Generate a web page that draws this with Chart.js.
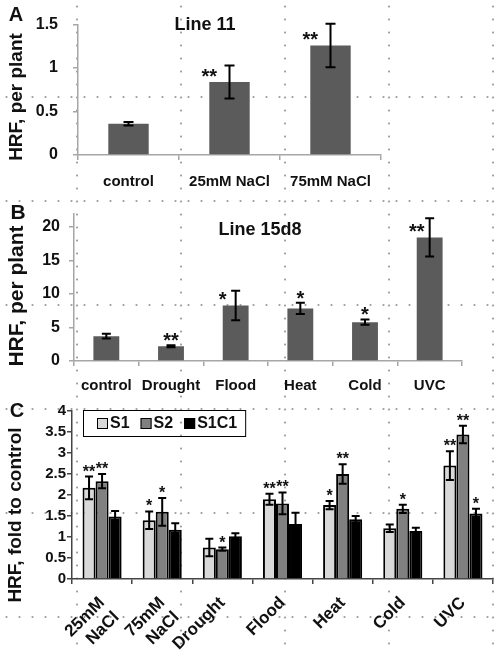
<!DOCTYPE html>
<html>
<head>
<meta charset="utf-8">
<script src="https://cdn.jsdelivr.net/npm/chart.js@4.4.0/dist/chart.umd.min.js"></script>
<style>
html, body { margin: 0; padding: 0; }
body {
  width: 498px; height: 654px; position: relative; overflow: hidden; background-color: #fff;
  /* faint dotted guide grid seen behind the figure */
  background-image: radial-gradient(circle, #a0a0a0 0.8px, transparent 1.3px),
                    radial-gradient(circle, #a0a0a0 0.8px, transparent 1.3px);
  background-size: 13px 104px, 104px 13px;
  background-position: 0 45px, 25px 0;
}
canvas { position: absolute; left: 0; }
</style>
</head>
<body>
<canvas id="chartA" width="498" height="195" style="top:0"></canvas>
<canvas id="chartB" width="498" height="200" style="top:195px"></canvas>
<canvas id="chartC" width="498" height="264" style="top:390px"></canvas>
<script>
const FONT = "'Liberation Sans', Arial, sans-serif";

// --- Panel A : Line 11 ---
const catsA = ['control', '25mM NaCl', '75mM NaCl'];
const hrfA = [0.36, 0.84, 1.26];
const errA = [0.02, 0.19, 0.25];
const sigA = ['', '**', '**'];
const yTicksA = [0, 0.5, 1, 1.5];

// --- Panel B : Line 15d8 ---
const catsB = ['control', 'Drought', 'Flood', 'Heat', 'Cold', 'UVC'];
const hrfB = [3.7, 2.2, 8.3, 7.85, 5.8, 18.45];
const errB = [0.35, 0.15, 2.2, 0.85, 0.4, 2.85];
const sigB = ['', '**', '*', '*', '*', '**'];
const yTicksB = [0, 5, 10, 15, 20];

// --- Panel C : fold to control ---
const catsC = [['25mM', 'NaCl'], ['75mM', 'NaCl'], 'Drought', 'Flood', 'Heat', 'Cold', 'UVC'];
const seriesC = ['S1', 'S2', 'S1C1'];
const s1 = [2.17, 1.40, 0.75, 1.90, 1.76, 1.21, 2.70];
const s1Err = [0.27, 0.21, 0.21, 0.13, 0.10, 0.09, 0.34];
const s1Sig = ['**', '*', '', '**', '*', '', '**'];
const s2 = [2.33, 1.60, 0.71, 1.80, 2.50, 1.67, 3.44];
const s2Err = [0.17, 0.33, 0.04, 0.26, 0.23, 0.10, 0.21];
const s2Sig = ['**', '*', '*', '**', '**', '*', '**'];
const s1c1 = [1.49, 1.17, 1.02, 1.31, 1.42, 1.14, 1.56];
const s1c1Err = [0.13, 0.16, 0.07, 0.27, 0.08, 0.08, 0.11];
const s1c1Sig = ['', '', '', '', '', '', '*'];
const yTicksC = [0, 0.5, 1, 1.5, 2, 2.5, 3, 3.5, 4];

Chart.defaults.font.family = FONT;
Chart.defaults.font.weight = 'bold';
Chart.defaults.color = '#111';

// error bars + significance stars, drawn from the bar elements and the y scale
const errorBarsPlugin = {
  id: 'errorBars',
  afterDatasetsDraw(chart, args, opts) {
    const ctx = chart.ctx, yScale = chart.scales.y;
    chart.data.datasets.forEach((ds, i) => {
      const meta = chart.getDatasetMeta(i);
      meta.data.forEach((bar, j) => {
        const v = ds.data[j], e = ds.errors[j];
        const yHi = yScale.getPixelForValue(v + e);
        const yLo = yScale.getPixelForValue(v - e);
        const c = opts.cap / 2;
        ctx.save();
        ctx.strokeStyle = '#000';
        ctx.lineWidth = 2;
        ctx.beginPath();
        ctx.moveTo(bar.x, yHi); ctx.lineTo(bar.x, yLo);
        ctx.moveTo(bar.x - c, yHi); ctx.lineTo(bar.x + c, yHi);
        ctx.moveTo(bar.x - c, yLo); ctx.lineTo(bar.x + c, yLo);
        ctx.stroke();
        const s = ds.stars[j];
        if (s) {
          ctx.font = 'bold ' + opts.starSize + 'px ' + FONT;
          ctx.fillStyle = '#111';
          ctx.textAlign = 'center';
          ctx.textBaseline = 'alphabetic';
          // tall error bar: stars sit at the bar's left shoulder, else above the cap
          if (opts.starMode === 'left' && yLo - yHi > 16) {
            ctx.fillText(s, bar.x - bar.width / 2, bar.y + 1);
          } else {
            ctx.fillText(s, bar.x, yHi + opts.starLift);
          }
        }
        ctx.restore();
      });
    });
  }
};

// panel letter, inner title and rotated axis title
const panelTextPlugin = {
  id: 'panelText',
  afterDraw(chart, args, opts) {
    const ctx = chart.ctx;
    (opts.items || []).forEach(t => {
      ctx.save();
      ctx.fillStyle = '#111';
      ctx.textAlign = 'center';
      ctx.textBaseline = 'middle';
      ctx.font = 'bold ' + t.size + 'px ' + FONT;
      ctx.translate(t.x, t.y);
      if (t.rot) ctx.rotate(-Math.PI / 2);
      ctx.fillText(t.text, 0, 0);
      ctx.restore();
    });
  }
};

// framed legend sitting inside the plot of panel C
const boxLegendPlugin = {
  id: 'boxLegend',
  afterDraw(chart, args, opts) {
    if (!opts.display) return;
    const ctx = chart.ctx;
    const cy = opts.y + opts.h / 2;
    let x = opts.x + opts.padL;
    ctx.save();
    ctx.font = 'bold 16px ' + FONT;
    ctx.textAlign = 'left';
    ctx.textBaseline = 'middle';
    chart.data.datasets.forEach((ds, i) => {
      ctx.fillStyle = ds.backgroundColor;
      ctx.fillRect(x, cy - 5, 11, 11);
      ctx.strokeStyle = '#000';
      ctx.lineWidth = 1;
      ctx.strokeRect(x + 0.5, cy - 4.5, 10, 10);
      x += 13;
      ctx.fillStyle = '#111';
      ctx.fillText(ds.label, x, cy + 1);
      x += ctx.measureText(ds.label).width;
      if (i < chart.data.datasets.length - 1) x += opts.gap;
    });
    ctx.strokeStyle = '#000';
    ctx.lineWidth = 1;
    ctx.strokeRect(opts.x + 0.5, opts.y + 0.5, x + opts.padR - opts.x, opts.h);
    ctx.restore();
  }
};

const axisGrey = '#a6a6a6';

function yAxis(ticks, max, width, pad, color, size) {
  return {
    min: 0, max: max,
    afterBuildTicks: s => { s.ticks = ticks.map(v => ({ value: v })); },
    afterFit: s => { s.width = width; },
    grid: { drawOnChartArea: false, tickLength: 5, color: color, lineWidth: 1.5 },
    border: { color: color, width: 1.5 },
    ticks: { font: { size: size, weight: 'bold' }, padding: pad, autoSkip: false, callback: v => String(v) }
  };
}

function xAxis(height, pad, color, rotate, size) {
  return {
    afterFit: s => { s.height = height; },
    grid: { drawOnChartArea: false, offset: true, tickLength: 5, color: color, lineWidth: 1.5 },
    border: { color: color, width: 1.5 },
    ticks: {
      font: { size: size, weight: 'bold' }, padding: pad, autoSkip: false,
      maxRotation: rotate, minRotation: rotate
    }
  };
}

// Panel A
new Chart(document.getElementById('chartA'), {
  type: 'bar',
  data: {
    labels: catsA,
    datasets: [{ data: hrfA, errors: errA, stars: sigA, backgroundColor: '#5b5b5b',
      borderWidth: 0, barPercentage: 0.4, categoryPercentage: 1 }]
  },
  options: {
    responsive: false, animation: false,
    layout: { padding: { top: 16, right: 117, left: 0, bottom: 0 } },
    plugins: {
      legend: { display: false }, tooltip: { enabled: false },
      errorBars: { cap: 10, starSize: 20, starMode: 'left', starLift: 2 },
      panelText: { items: [
        { text: 'A', x: 16, y: 15, size: 20 },
        { text: 'Line 11', x: 205, y: 25, size: 18 },
        { text: 'HRF, per plant', x: 17, y: 97, size: 19, rot: true }
      ] }
    },
    scales: {
      x: xAxis(40, 13, axisGrey, 0, 15),
      y: yAxis(yTicksA, 1.5, 78, 15, axisGrey, 16)
    }
  },
  plugins: [errorBarsPlugin, panelTextPlugin]
});

// Panel B
new Chart(document.getElementById('chartB'), {
  type: 'bar',
  data: {
    labels: catsB,
    datasets: [{ data: hrfB, errors: errB, stars: sigB, backgroundColor: '#5b5b5b',
      borderWidth: 0, barPercentage: 0.4, categoryPercentage: 1 }]
  },
  options: {
    responsive: false, animation: false,
    layout: { padding: { top: 15, right: 36, left: 0, bottom: 0 } },
    plugins: {
      legend: { display: false }, tooltip: { enabled: false },
      errorBars: { cap: 9, starSize: 20, starMode: 'left', starLift: 2 },
      panelText: { items: [
        { text: 'B', x: 18, y: 18, size: 21 },
        { text: 'Line 15d8', x: 260, y: 35, size: 18 },
        { text: 'HRF, per plant', x: 17, y: 101, size: 21, rot: true }
      ] }
    },
    scales: {
      x: xAxis(34, 11, axisGrey, 0, 15),
      y: yAxis(yTicksB, 22, 74, 9, axisGrey, 16)
    }
  },
  plugins: [errorBarsPlugin, panelTextPlugin]
});

// Panel C
const colorsC = ['#d9d9d9', '#808080', '#000000'];
const valuesC = [s1, s2, s1c1];
const errorsC = [s1Err, s2Err, s1c1Err];
const starsC = [s1Sig, s2Sig, s1c1Sig];

new Chart(document.getElementById('chartC'), {
  type: 'bar',
  data: {
    labels: catsC,
    datasets: seriesC.map((name, i) => ({
      label: name, data: valuesC[i], errors: errorsC[i], stars: starsC[i],
      backgroundColor: colorsC[i], borderColor: '#000', borderWidth: 2,
      barPercentage: 1, categoryPercentage: 0.65
    }))
  },
  options: {
    responsive: false, animation: false,
    layout: { padding: { top: 21, right: 5, left: 0, bottom: 0 } },
    plugins: {
      legend: { display: false }, tooltip: { enabled: false },
      errorBars: { cap: 8, starSize: 16, starMode: 'top', starLift: 0 },
      panelText: { items: [
        { text: 'C', x: 17, y: 21, size: 20 },
        { text: 'HRF, fold to control', x: 16, y: 125, size: 19, rot: true }
      ] },
      boxLegend: { display: true, x: 83, y: 20, h: 26, padL: 14, padR: 8, gap: 11 }
    },
    scales: {
      x: xAxis(75, 9, '#444', 45, 17),
      y: yAxis(yTicksC, 4, 72, 1, '#444', 15)
    }
  },
  plugins: [errorBarsPlugin, panelTextPlugin, boxLegendPlugin]
});
</script>
</body>
</html>
